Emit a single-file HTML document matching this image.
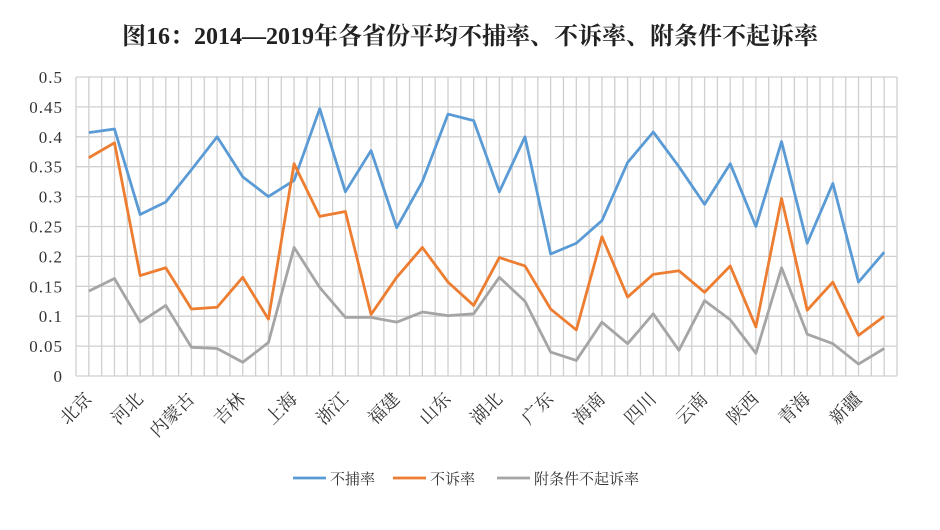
<!DOCTYPE html>
<html><head><meta charset="utf-8"><style>
body{margin:0;background:#fff;width:940px;height:525px;overflow:hidden}
svg text{font-family:"Liberation Serif","Noto Serif CJK SC",serif}
</style></head><body>
<svg width="940" height="525">
<text x="470" y="44" text-anchor="middle" font-size="24" font-weight="bold" fill="#222">图16：2014—2019年各省份平均不捕率、不诉率、附条件不起诉率</text>
<g id="grid"></g>
<g id="ylab"></g>
<g id="xlab"></g>
<g id="series"></g>
<g id="legend"></g>
</svg>
<script>
const categories=["北京","天津","河北","山西","内蒙古","辽宁","吉林","黑龙江","上海","江苏","浙江","安徽","福建","江西","山东","河南","湖北","湖南","广东","广西","海南","重庆","四川","贵州","云南","西藏","陕西","甘肃","青海","宁夏","新疆",""];
const buBu=[.407,.413,.27,.291,.345,.4,.333,.3,.327,.447,.308,.377,.248,.325,.438,.427,.308,.4,.204,.222,.26,.357,.408,.35,.287,.355,.25,.392,.222,.322,.157,.207];
const buSu=[.365,.39,.168,.181,.112,.115,.165,.095,.355,.267,.275,.103,.165,.215,.157,.118,.198,.184,.112,.077,.233,.132,.17,.176,.14,.184,.082,.297,.11,.157,.068,.1];
const fuTiaojian=[.142,.163,.09,.118,.048,.046,.023,.056,.215,.148,.098,.098,.09,.107,.101,.104,.165,.125,.04,.026,.09,.054,.104,.043,.126,.094,.038,.181,.07,.054,.02,.046];
const yTicks=[0,0.05,0.1,0.15,0.2,0.25,0.3,0.35,0.4,0.45,0.5];
const seriesNames=["不捕率","不诉率","附条件不起诉率"];
const colors=["#5b9bd5","#ed7d31","#a5a5a5"];
const NS="http://www.w3.org/2000/svg";
const L=76,R=897,T=77,B=376,n=categories.length,cw=(R-L)/n;
const xs=i=>L+cw*(i+0.5);
const ys=v=>B-(v/0.5)*(B-T);
function mk(t,a,p){const e=document.createElementNS(NS,t);for(const k in a)e.setAttribute(k,a[k]);p.appendChild(e);return e;}
const grid=document.getElementById('grid');
for(let k=0;k<=2*n;k++){const x=L+k*cw/2;const e=mk('line',{x1:x,x2:x,y1:T,y2:B,stroke:'#d0d0d0','stroke-width':1.3},grid);

}
const yl=document.getElementById('ylab');
yTicks.forEach(v=>{const y=ys(v);const g=mk('line',{x1:L,x2:R,y1:y,y2:y,stroke:'#d0d0d0','stroke-width':1.3},grid);


const t=mk('text',{x:63,y:y+6,'text-anchor':'end','font-size':17,fill:'#333','letter-spacing':'1'},yl);t.textContent=String(v);

});
const xl=document.getElementById('xlab');
categories.forEach((c,i)=>{if(i%2||!c)return;const x=xs(i)+4,y=B+24;const t=mk('text',{x:x,y:y,'text-anchor':'end','font-size':18,fill:'#333',transform:`rotate(-45 ${x} ${y})`},xl);t.textContent=c;

});
const sg=document.getElementById('series');
[buBu,buSu,fuTiaojian].forEach((d,s)=>{const p=mk('polyline',{points:d.map((v,i)=>xs(i)+','+ys(v)).join(' '),fill:'none',stroke:colors[s],'stroke-width':2.8,'stroke-linejoin':'round'},sg);

});
const lg=document.getElementById('legend');
const lx=[293,393,497];
seriesNames.forEach((nm,s)=>{const l=mk('line',{x1:lx[s],x2:lx[s]+33,y1:478,y2:478,stroke:colors[s],'stroke-width':2.8},lg);


const t=mk('text',{x:lx[s]+37,y:484,'font-size':15,fill:'#333'},lg);t.textContent=nm;

});
</script>
</body></html>
